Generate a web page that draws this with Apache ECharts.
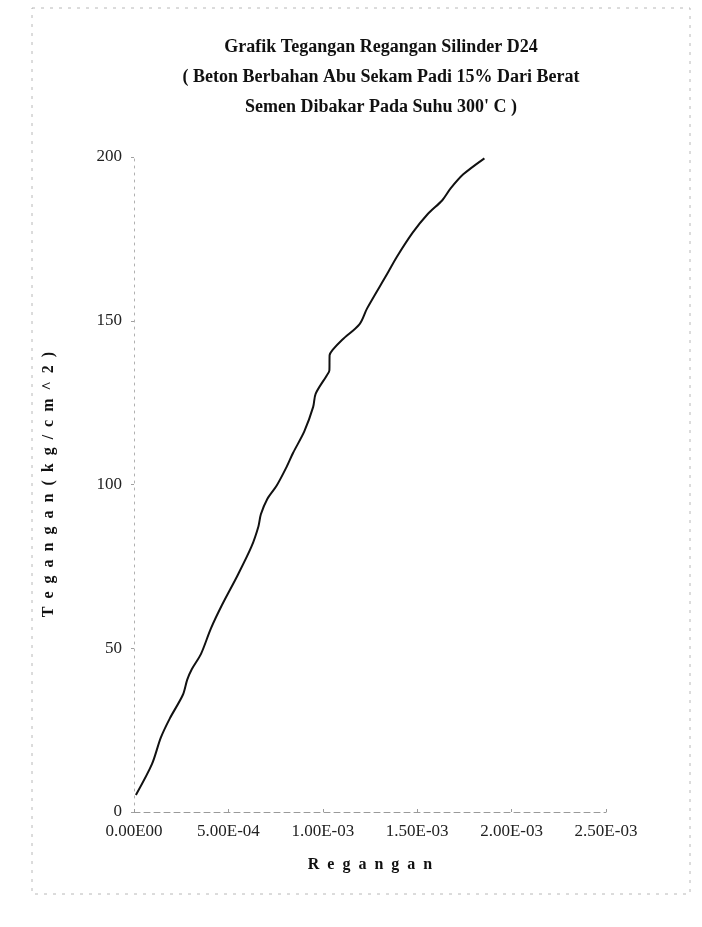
<!DOCTYPE html>
<html>
<head>
<meta charset="utf-8">
<title>Grafik Tegangan Regangan Silinder D24</title>
<script src="https://cdn.jsdelivr.net/npm/echarts@6/dist/echarts.min.js"></script>
<style>
  html, body { margin: 0; padding: 0; background: #ffffff; }
  #chart { width: 702px; height: 927px; }
</style>
</head>
<body>
<div id="chart"></div>
<script>
// Regangan (strain) and Tegangan (stress, kg/cm^2) readings of cylinder D24
const regangan = [
  0.00001, 0.000095, 0.000142, 0.00019, 0.000259, 0.000282, 0.000306, 0.000355,
  0.000407, 0.000466, 0.000549, 0.000622, 0.000659, 0.000672, 0.000706, 0.000756,
  0.000805, 0.000843, 0.000902, 0.000949, 0.000962, 0.001021, 0.001035, 0.001036,
  0.001052, 0.001103, 0.001195, 0.001234, 0.001342, 0.001391, 0.001476, 0.001556,
  0.001633, 0.001677, 0.001744, 0.001856
];
const tegangan = [
  5.2, 14.6, 22.7, 28.6, 35.8, 40.4, 43.6, 48.3,
  56.0, 63.2, 72.3, 81.0, 87.2, 90.9, 95.6, 99.7,
  105.0, 109.7, 116.2, 123.7, 127.7, 133.3, 134.9, 139.5,
  141.1, 144.2, 149.0, 153.7, 164.4, 169.4, 176.9, 182.6,
  186.8, 190.4, 194.7, 199.6
];
const xTickLabels = ['0.00E00', '5.00E-04', '1.00E-03', '1.50E-03', '2.00E-03', '2.50E-03'];
const yTickLabels = ['0', '50', '100', '150', '200'];

const titleLines = [
  'Grafik Tegangan Regangan Silinder D24',
  '( Beton Berbahan Abu Sekam Padi 15% Dari Berat',
  'Semen Dibakar Pada Suhu 300\' C )'
];
const xName = 'R  e  g  a  n  g  a  n';
const yName = 'T  e  g  a  n  g  a  n  (  k  g  /  c  m  ^  2  )';

const xStep = 0.0005;
const yStep = 50;
const serif = '"Liberation Serif", "Times New Roman", serif';

const points = regangan.map((x, i) => [x, tegangan[i]]);

const chart = echarts.init(document.getElementById('chart'), null, { renderer: 'canvas' });

chart.setOption({
  backgroundColor: '#ffffff',
  animation: false,
  title: {
    text: titleLines.join('\n'),
    left: 376,
    textAlign: 'center',
    top: 27,
    textStyle: {
      fontFamily: serif,
      fontWeight: 'bold',
      fontSize: 18,
      lineHeight: 30,
      color: '#111'
    }
  },
  grid: { left: 134, top: 157, width: 472, bottom: 115, containLabel: false },
  xAxis: {
    type: 'value',
    min: 0,
    max: xStep * (xTickLabels.length - 1),
    interval: xStep,
    name: xName,
    nameLocation: 'middle',
    nameGap: 45,
    nameTextStyle: { fontFamily: serif, fontWeight: 'bold', fontSize: 16, color: '#111' },
    axisLine: { show: true, lineStyle: { color: '#9a9a9a', width: 1, type: [6, 4] } },
    axisTick: { show: true, length: 3, inside: true, lineStyle: { color: '#9a9a9a' } },
    splitLine: { show: false },
    axisLabel: {
      margin: 11,
      fontFamily: serif,
      fontSize: 17,
      color: '#222',
      formatter: v => xTickLabels[Math.round(v / xStep)]
    }
  },
  yAxis: {
    type: 'value',
    min: 0,
    max: yStep * (yTickLabels.length - 1),
    interval: yStep,
    name: yName,
    nameLocation: 'middle',
    nameRotate: 90,
    nameGap: 77,
    nameTextStyle: { fontFamily: serif, fontWeight: 'bold', fontSize: 16, color: '#111' },
    axisLine: { show: true, lineStyle: { color: '#b0b0b0', width: 1, type: [2, 5] } },
    axisTick: { show: true, length: 3, lineStyle: { color: '#a0a0a0' } },
    splitLine: { show: false },
    axisLabel: {
      margin: 12,
      fontFamily: serif,
      fontSize: 17,
      color: '#222',
      formatter: v => yTickLabels[Math.round(v / yStep)]
    }
  },
  series: [{
    type: 'line',
    data: points,
    showSymbol: false,
    smooth: 0.3,
    lineStyle: { color: '#111', width: 2 }
  }],
  graphic: [{
    type: 'rect',
    shape: { x: 32, y: 8, width: 658, height: 886 },
    style: { fill: 'none', stroke: '#b8b8b8', lineWidth: 1, lineDash: [3, 6] },
    silent: true
  }]
});
</script>
</body>
</html>
